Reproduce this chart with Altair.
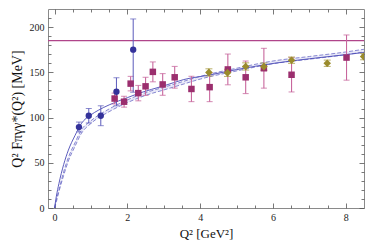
import altair as alt
import pandas as pd

# ---- data ----
q_solid = [0, 0.05, 0.12, 0.25, 0.38, 0.56, 0.73, 1.0, 1.2, 1.5, 2.0, 2.33, 3.0, 3.55, 4.25, 5.0, 6.04, 7.0, 8.0, 8.5]
f_solid = [0, 13, 27, 48, 64, 80, 93, 103, 108, 114, 122, 127, 135, 142, 147, 153, 160, 165, 169.5, 172]

q_dash = [0, 0.05, 0.12, 0.25, 0.38, 0.56, 0.73, 1.0, 1.5, 2.0, 2.5, 3.0, 3.5, 4.0, 5.0, 6.0, 7.0, 8.0, 8.5]
dash_lo = [0, 7, 18, 36, 52, 68, 82, 93.5, 106.5, 116.5, 124.5, 130.5, 136.5, 142.5, 151.5, 159.5, 164.5, 169.5, 172.5]
dash_hi = [0, 9, 20, 40, 56, 72, 86, 96.5, 109.5, 119.5, 127.5, 133.5, 139.5, 145.5, 154.5, 162.5, 167.5, 172.5, 175.5]

cello_q = [0.67, 0.94, 1.27, 1.70, 2.16]
cello_f = [89.5, 102, 102, 128.5, 175]
cello_lo = [84, 94, 91, 113, 128]
cello_hi = [95, 110, 113, 144, 209]

cleo_q = [1.65, 1.91, 2.09, 2.30, 2.50, 2.70, 2.97, 3.30, 3.76, 4.26, 4.76, 5.25, 5.75, 6.51, 8.02]
cleo_f = [121, 117.5, 137.5, 127, 134.5, 150.5, 136.6, 144.5, 131.6, 133.6, 153.2, 144.5, 154.5, 147.3, 166.3]
cleo_err = [6, 6, 8, 8.5, 10, 11, 12, 12, 14, 16, 17, 18, 22, 19, 25]

babar_q = [4.24, 4.75, 5.25, 5.75, 6.51, 7.49, 8.49]
babar_f = [149.9, 149.4, 156.5, 156.3, 163.4, 160, 167.4]
babar_err = [4, 4, 4, 4, 3.5, 3.5, 3.5]

asymptote = [185]

x_major = [0, 2, 4, 6, 8]
x_minor = [0.5, 1, 1.5, 2.5, 3, 3.5, 4.5, 5, 5.5, 6.5, 7, 7.5]
y_major = [0, 50, 100, 150, 200]
y_minor = [10, 20, 30, 40, 60, 70, 80, 90, 110, 120, 130, 140, 160, 170, 180, 190, 210]

# ---- tables ----
solid = pd.DataFrame({"q": q_solid, "f": f_solid})
dash = pd.DataFrame({"q": q_dash, "lo": dash_lo, "hi": dash_hi})
cello = pd.DataFrame({"q": cello_q, "f": cello_f, "lo": cello_lo, "hi": cello_hi})
cleo = pd.DataFrame({"q": cleo_q, "f": cleo_f,
                     "lo": [f - e for f, e in zip(cleo_f, cleo_err)],
                     "hi": [f + e for f, e in zip(cleo_f, cleo_err)]})
babar = pd.DataFrame({"q": babar_q, "f": babar_f,
                      "lo": [f - e for f, e in zip(babar_f, babar_err)],
                      "hi": [f + e for f, e in zip(babar_f, babar_err)]})
hline = pd.DataFrame({"f": asymptote})

FONT = "Liberation Serif"
xs = alt.Scale(domain=[-0.18, 8.5], nice=False, zero=False)
ys = alt.Scale(domain=[0, 220], nice=False, zero=False)


def xaxis(orient, values, size, labels=False, title=None, tsize=13):
    kw = dict(orient=orient, values=values, tickSize=size, offset=-size, domain=False,
              grid=False, labels=labels, tickColor="#555555", tickWidth=0.8)
    if labels:
        kw.update(labelFont=FONT, labelFontSize=10, labelColor="#222222", labelPadding=4)
    if title:
        kw.update(title=title, titleFont=FONT, titleFontSize=tsize, titleFontWeight="normal",
                  titleColor="#111111", titlePadding=5)
    else:
        kw.update(title=None)
    return alt.Axis(**kw)


def X(field, axis=None):
    return alt.X(field, type="quantitative", scale=xs, axis=axis)


def Y(field, axis=None):
    return alt.Y(field, type="quantitative", scale=ys, axis=axis)


band = alt.Chart(dash).mark_area(color="#d4d4f2", opacity=0.5, clip=True,
                                 interpolate="monotone").encode(
    x=X("q", xaxis("bottom", x_major, 5, labels=True, title="Q² [GeV²]", tsize=13)),
    y=Y("lo", xaxis("left", y_major, 5, labels=True, title="Q² Fπγγ*(Q²) [MeV]", tsize=14)),
    y2="hi",
)
dash_lo_line = alt.Chart(dash).mark_line(color="#6c6cc6", strokeDash=[4, 2], strokeWidth=0.8,
                                         interpolate="monotone", clip=True).encode(
    x=X("q", xaxis("bottom", x_minor, 3)),
    y=Y("lo", xaxis("left", y_minor, 3)),
)
dash_hi_line = alt.Chart(dash).mark_line(color="#6c6cc6", strokeDash=[4, 2], strokeWidth=0.8,
                                         interpolate="monotone", clip=True).encode(
    x=X("q", xaxis("top", x_major, 5)),
    y=Y("hi", xaxis("right", y_major, 5)),
)
solid_line = alt.Chart(solid).mark_line(color="#4a4ab6", strokeWidth=0.9,
                                        interpolate="monotone", clip=True).encode(
    x=X("q", xaxis("top", x_minor, 3)),
    y=Y("f", xaxis("right", y_minor, 3)),
)
rule = alt.Chart(hline).mark_rule(color="#b0458a", strokeWidth=1.1).encode(y=Y("f"))

cello_err = alt.Chart(cello).mark_errorbar(ticks={"size": 6}, clip=True, color="#5b5bbb",
                                           thickness=1).encode(x=X("q"), y=Y("lo"), y2="hi")
cleo_err_l = alt.Chart(cleo).mark_errorbar(ticks={"size": 6}, clip=True, color="#c8679d",
                                           thickness=1.1).encode(x=X("q"), y=Y("lo"), y2="hi")
babar_err_l = alt.Chart(babar).mark_errorbar(ticks={"size": 7}, clip=True, color="#a6993d",
                                             thickness=1.1).encode(x=X("q"), y=Y("lo"), y2="hi")

cello_pts = alt.Chart(cello).mark_point(shape="circle", filled=True, size=40, opacity=1,
                                        color="#34329a", clip=True).encode(x=X("q"), y=Y("f"))
cleo_pts = alt.Chart(cleo).mark_point(shape="square", filled=True, size=42, opacity=1,
                                      color="#9b2e6e", clip=True).encode(x=X("q"), y=Y("f"))
babar_pts = alt.Chart(babar).mark_point(shape="diamond", filled=True, size=58, opacity=1,
                                        color="#9a8b2c", clip=True).encode(x=X("q"), y=Y("f"))

chart = alt.layer(
    band, dash_lo_line, dash_hi_line, solid_line, rule,
    cleo_err_l, cello_err, babar_err_l,
    cleo_pts, cello_pts, babar_pts,
).resolve_axis(x="independent", y="independent").properties(
    width=358, height=234,
    autosize=alt.AutoSizeParams(type="fit", contains="padding"),
    padding={"left": 2, "right": 1, "top": 0, "bottom": 2},
).configure_view(stroke="#8a8a8a", strokeWidth=1)

chart.save("out.html", embed_options={"renderer": "svg", "actions": False})
